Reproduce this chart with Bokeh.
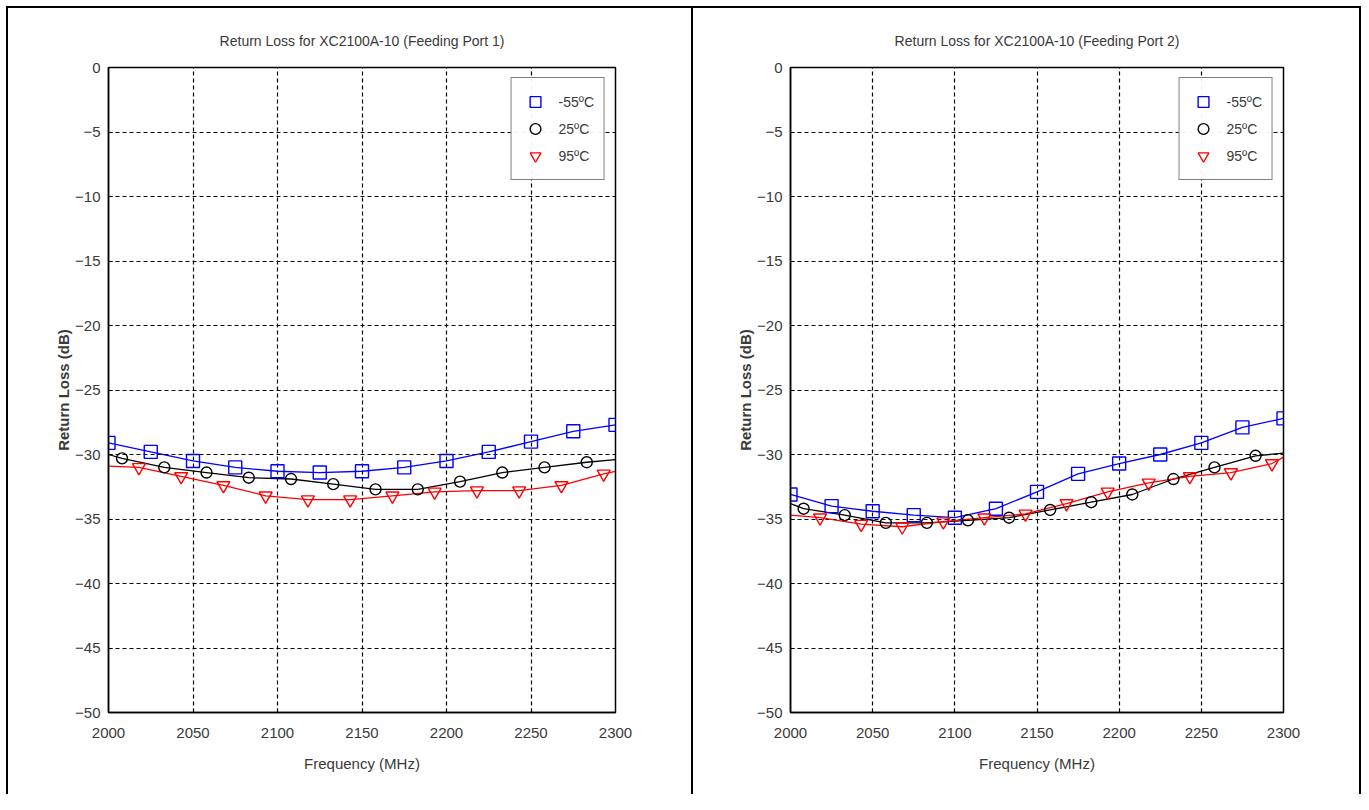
from bokeh.plotting import figure
from bokeh.layouts import row, column
from bokeh.models import Legend, LegendItem, FixedTicker, Div, Spacer
from bokeh.embed import file_html
from bokeh.resources import INLINE

# ---------------- data ----------------
freq_sq = [2000, 2025, 2050, 2075, 2100, 2125, 2150, 2175, 2200, 2225, 2250, 2275, 2300]
freq_ci = [2008, 2033, 2058, 2083, 2108, 2133, 2158, 2183, 2208, 2233, 2258, 2283]
freq_tr = [2018, 2043, 2068, 2093, 2118, 2143, 2168, 2193, 2218, 2243, 2268, 2293]
band_edges = [2000, 2300]

# Port 1
p1_m55 = [-29.1, -29.8, -30.5, -31.0, -31.3, -31.4, -31.3, -31.0, -30.5, -29.8, -29.0, -28.2, -27.7]
p1_25 = [-30.3, -31.0, -31.4, -31.8, -31.9, -32.3, -32.7, -32.7, -32.1, -31.4, -31.0, -30.6]
p1_25_edges = [-30.0, -30.4]
p1_95 = [-31.0, -31.7, -32.4, -33.2, -33.5, -33.5, -33.2, -32.9, -32.8, -32.8, -32.4, -31.5]
p1_95_edges = [-30.9, -31.3]

# Port 2
p2_m55 = [-33.1, -34.0, -34.4, -34.7, -34.9, -34.2, -32.9, -31.5, -30.7, -30.0, -29.1, -27.9, -27.2]
p2_25 = [-34.2, -34.7, -35.3, -35.3, -35.1, -34.9, -34.3, -33.7, -33.1, -31.9, -31.0, -30.1]
p2_25_edges = [-33.8, -29.9]
p2_95 = [-34.9, -35.4, -35.6, -35.2, -34.9, -34.6, -33.8, -32.9, -32.2, -31.7, -31.4, -30.7]
p2_95_edges = [-34.7, -30.2]

legend_labels = ["-55\u00baC", "25\u00baC", "95\u00baC"]
x_ticks = [2000, 2050, 2100, 2150, 2200, 2250, 2300]
y_ticks = [0, -5, -10, -15, -20, -25, -30, -35, -40, -45, -50]

FONT = "'Liberation Sans Narrow', 'Liberation Sans', Arial, sans-serif"
TXT = "#3a3a3a"
H = 786  # height of each chart panel


def make(title, m55, c25, c25_edges, c95, c95_edges, width, bl, br, frame_h):
    p = figure(width=width, height=H, x_range=(2000, 2300), y_range=(-50, 0),
               output_backend="svg", toolbar_location=None, title=title,
               min_border_left=bl, min_border_right=br, min_border_top=59,
               min_border_bottom=H - 59 - frame_h, margin=0)
    p.title.align = "center"
    p.title.text_font = FONT
    p.title.text_font_size = "14px"
    p.title.text_font_style = "normal"
    p.title.text_color = TXT
    p.title.standoff = 38

    p.outline_line_color = "black"
    p.outline_line_width = 1.5
    for g in (p.xgrid, p.ygrid):
        g.grid_line_color = "black"
        g.grid_line_dash = "4 3"
        g.grid_line_width = 1.2
    p.xaxis.ticker = FixedTicker(ticks=x_ticks)
    p.yaxis.ticker = FixedTicker(ticks=y_ticks)
    for ax in (p.xaxis, p.yaxis):
        ax.axis_line_color = "black"
        ax.axis_line_width = 1.5
        ax.major_tick_in = 4
        ax.major_tick_out = 0
        ax.minor_tick_line_color = None
        ax.major_label_text_font = FONT
        ax.major_label_text_font_size = "15px"
        ax.major_label_text_color = TXT
        ax.axis_label_text_font = FONT
        ax.axis_label_text_font_style = "normal"
        ax.axis_label_text_color = TXT
    p.xaxis.axis_label = "Frequency (MHz)"
    p.xaxis.axis_label_text_font_size = "15px"
    p.xaxis.major_label_standoff = 15
    p.xaxis.axis_label_standoff = 14
    p.yaxis.axis_label = "Return Loss (dB)"
    p.yaxis.axis_label_text_font_size = "15px"
    p.yaxis.axis_label_text_font_style = "bold"
    p.yaxis.major_label_standoff = 8
    p.yaxis.axis_label_standoff = 0

    # lines
    p.line(freq_sq, m55, line_color="#0000ff", line_width=1.3)
    p.line([band_edges[0]] + freq_ci + [band_edges[1]],
           [c25_edges[0]] + c25 + [c25_edges[1]], line_color="black", line_width=1.3)
    p.line([band_edges[0]] + freq_tr + [band_edges[1]],
           [c95_edges[0]] + c95 + [c95_edges[1]], line_color="#ff0000", line_width=1.3)
    # markers
    r1 = p.scatter(freq_sq, m55, marker="square", size=13, fill_color=None,
                   line_color="#0000ff", line_width=1.4)
    r2 = p.scatter(freq_ci, c25, marker="circle", size=11, fill_color=None,
                   line_color="black", line_width=1.4)
    r3 = p.scatter(freq_tr, c95, marker="inverted_triangle", size=13, fill_color=None,
                   line_color="#ff0000", line_width=1.4)

    leg = Legend(items=[LegendItem(label=legend_labels[0], renderers=[r1]),
                        LegendItem(label=legend_labels[1], renderers=[r2]),
                        LegendItem(label=legend_labels[2], renderers=[r3])],
                 location="top_right")
    leg.margin = 10
    leg.padding = 10
    leg.spacing = 0
    leg.border_line_color = "black"
    leg.border_line_width = 1.5
    leg.label_text_font = FONT
    leg.label_text_font_size = "14px"
    leg.label_text_color = TXT
    leg.glyph_width = 27
    leg.glyph_height = 27
    leg.label_height = 27
    leg.label_standoff = 10
    p.add_layout(leg)
    return p


def bar(w, h):
    return Div(text="", width=w, height=h, margin=0,
               styles={"background-color": "black"})


p1 = make("Return Loss for XC2100A-10 (Feeding Port 1)", p1_m55, p1_25, p1_25_edges,
          p1_95, p1_95_edges, width=683, bl=100, br=683 - 100 - 507, frame_h=645)
p2 = make("Return Loss for XC2100A-10 (Feeding Port 2)", p2_m55, p2_25, p2_25_edges,
          p2_95, p2_95_edges, width=666, bl=97, br=666 - 97 - 493, frame_h=653)

body = row(Spacer(width=6, height=H, margin=0), bar(2, H), p1, bar(2, H), p2, bar(2, H),
           spacing=0, margin=0)
top = row(Spacer(width=6, height=2, margin=0), bar(1355, 2), spacing=0, margin=0)
layout = column(Spacer(width=10, height=6, margin=0), top, body, spacing=0, margin=0)
open("out.html", "w").write(file_html(layout, INLINE))
